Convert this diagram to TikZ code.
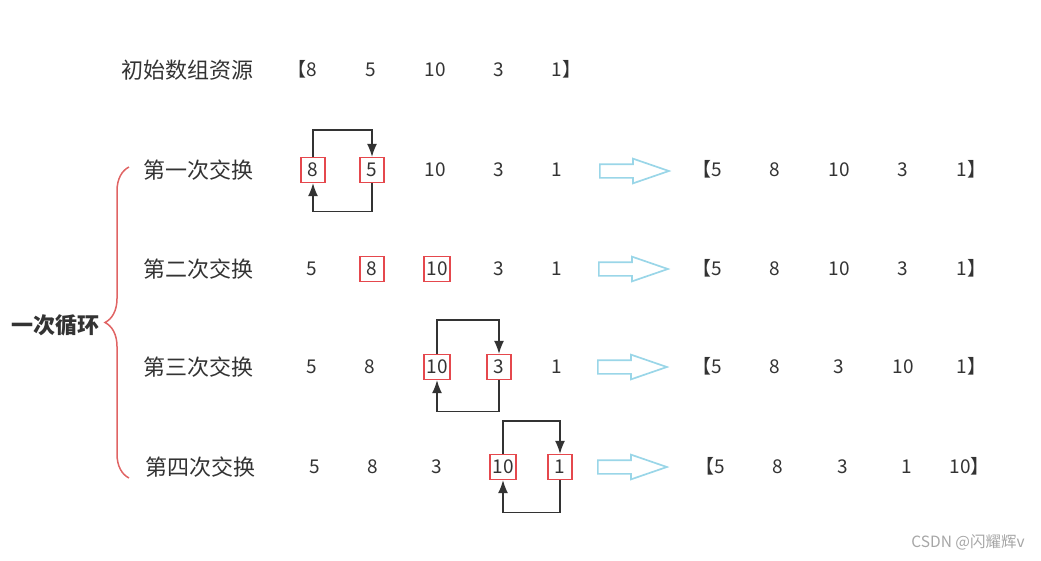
\documentclass[tikz,border=0pt]{standalone}
\usepackage{fontspec}
\setmainfont{Noto Sans CJK SC}
\usetikzlibrary{decorations.pathreplacing,shapes.arrows,arrows.meta}
\definecolor{ink}{HTML}{333333}
\definecolor{boxred}{HTML}{E5484D}
\definecolor{bracered}{HTML}{E06464}
\definecolor{hollowblue}{HTML}{9AD6E8}
\tikzset{
  >={Latex[length=13pt,width=10pt]},
  every node/.style={font=\fontsize{19}{23}\selectfont, text=ink, inner sep=0pt, text height=13.8pt, text depth=0pt},
  lbl/.style={font=\fontsize{22}{26}\selectfont, text height=16.8pt},
  swapbox/.style={draw=boxred, line width=1.3pt, inner xsep=2.5pt, minimum height=25pt, minimum width=24pt},
  swapline/.style={draw=ink, line width=1.3pt, ->},
  hollow/.style={single arrow, draw=hollowblue, line width=1.7pt, anchor=west,
    text height=0pt, text depth=0pt, inner sep=6pt, minimum height=69pt,
    single arrow head extend=5.5pt, single arrow tip angle=38},
  bracket/.style={draw=bracered, line width=1.5pt, decorate, decoration={brace,amplitude=24pt}}
}

\begin{document}
\begin{tikzpicture}[x=1pt,y=-1pt]
  \useasboundingbox (0,0) rectangle (1041,560);
  \node[lbl] (init) at (187,70) {初始数组资源};
  \foreach \x/\v [count=\i] in {312/\llap{【}8,371/5,435/10,499/3,557/1\rlap{】}}
    \node (s\i) at (\x,70) {\v};

  \node[lbl] (loop) at (55,325) {\bfseries 一次循环};
  \draw[bracket] (129,478) -- (129,167);

  \node[lbl] (p1) at (198,170) {第一次交换};
  \node[swapbox] (a1) at (313,170) {8};
  \node[swapbox] (b1) at (372,170) {5};
  \foreach \x/\v [count=\i] in {435/10,499/3,557/1}
    \node (n1\i) at (\x,170) {\v};
  \draw[swapline] (a1.north) -- ++(0,-27) -| (b1.north);
  \draw[swapline] (b1.south) -- ++(0,28) -| (a1.south);
  \node[hollow] (t1) at (599,171) {};
  \foreach \x/\v [count=\i] in {717/\llap{【}5,775/8,839/10,903/3,962/1\rlap{】}}
    \node (r1\i) at (\x,170) {\v};

  \node[lbl] (p2) at (198,269) {第二次交换};
  \node (n21) at (312,269) {5};
  \node[swapbox] (a2) at (372,269) {8};
  \node[swapbox] (b2) at (437,269) {10};
  \foreach \x/\v [count=\i] in {499/3,557/1}
    \node (n2\i) at (\x,269) {\v};
  \node[hollow] (t2) at (598,269) {};
  \foreach \x/\v [count=\i] in {717/\llap{【}5,775/8,839/10,903/3,962/1\rlap{】}}
    \node (r2\i) at (\x,269) {\v};

  \node[lbl] (p3) at (198,367) {第三次交换};
  \foreach \x/\v [count=\i] in {312/5,370/8}
    \node (n3\i) at (\x,367) {\v};
  \node[swapbox] (a3) at (437,367) {10};
  \node[swapbox] (b3) at (499,367) {3};
  \node (n33) at (557,367) {1};
  \draw[swapline] (a3.north) -- ++(0,-34) -| (b3.north);
  \draw[swapline] (b3.south) -- ++(0,31) -| (a3.south);
  \node[hollow] (t3) at (597,367) {};
  \foreach \x/\v [count=\i] in {717/\llap{【}5,775/8,839/3,903/10,962/1\rlap{】}}
    \node (r3\i) at (\x,367) {\v};

  \node[lbl] (p4) at (200,467) {第四次交换};
  \foreach \x/\v [count=\i] in {315/5,373/8,437/3}
    \node (n4\i) at (\x,467) {\v};
  \node[swapbox] (a4) at (503,467) {10};
  \node[swapbox] (b4) at (560,467) {1};
  \draw[swapline] (a4.north) -- ++(0,-33) -| (b4.north);
  \draw[swapline] (b4.south) -- ++(0,32) -| (a4.south);
  \node[hollow] (t4) at (597,467) {};
  \foreach \x/\v [count=\i] in {720/\llap{【}5,778/8,843/3,907/1,960/10\rlap{】}}
    \node (r4\i) at (\x,467) {\v};

  \node[font=\fontsize{15.5}{18}\selectfont, text height=11pt, text=black!35] (mark) at (968,542) {CSDN @闪耀辉v};
\end{tikzpicture}
\end{document}
